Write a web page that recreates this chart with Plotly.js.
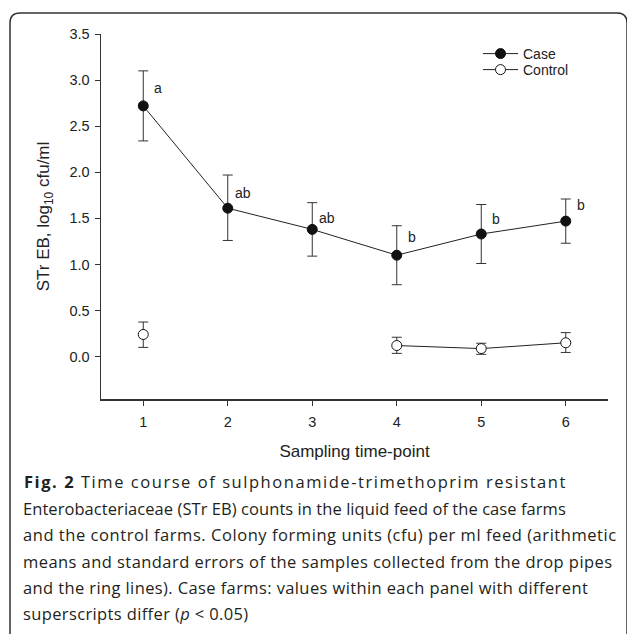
<!DOCTYPE html>
<html>
<head>
<meta charset="utf-8">
<script src="https://cdn.plot.ly/plotly-3.0.1.min.js"></script>
<style>
  html, body { margin: 0; padding: 0; background: #fff; }
  #chart { width: 627px; height: 634px; }
</style>
</head>
<body>
<div id="chart"></div>
<script>
// ---- data ----
const timePoints = [1, 2, 3, 4, 5, 6];
const tickLabelsX = ['1', '2', '3', '4', '5', '6'];

const caseMean      = [2.72, 1.61, 1.38, 1.10, 1.33, 1.47];
const caseErrPlus   = [0.38, 0.36, 0.29, 0.32, 0.32, 0.24];
const caseErrMinus  = [0.38, 0.35, 0.29, 0.32, 0.32, 0.24];

const controlMean     = [0.24, null, null, 0.12, 0.087, 0.15];
const controlErrPlus  = [0.135, null, null, 0.09, 0.058, 0.11];
const controlErrMinus = [0.14, null, null, 0.085, 0.062, 0.105];

const superscripts = ['a', 'ab', 'ab', 'b', 'b', 'b'];
const superscriptY = [2.91, 1.77, 1.50, 1.30, 1.49, 1.65];

const yTickVals = [0, 0.5, 1.0, 1.5, 2.0, 2.5, 3.0, 3.5];

const captionLines = [
  '<b>Fig. 2</b> Time course of sulphonamide-trimethoprim resistant',
  'Enterobacteriaceae (STr EB) counts in the liquid feed of the case farms',
  'and the control farms. Colony forming units (cfu) per ml feed (arithmetic',
  'means and standard errors of the samples collected from the drop pipes',
  'and the ring lines). Case farms: values within each panel with different',
  'superscripts differ (<i>p</i> &lt; 0.05)'
];

// ---- layout geometry ----
const W = 627, H = 634;
const M = { l: 101, r: 19, t: 34, b: 235 };
const PW = W - M.l - M.r, PH = H - M.t - M.b;
const px2x = p => (p - M.l) / PW;
const py2y = p => (H - M.b - p) / PH;

const chartFont = 'Liberation Sans, Arial, Helvetica, sans-serif';
const ink = '#222222';

const traces = [
  {
    name: 'Case', legend: 'legend',
    x: timePoints, y: caseMean,
    type: 'scatter', mode: 'lines+markers',
    line: { color: ink, width: 1 },
    marker: { symbol: 'circle', size: 10, color: '#111111', line: { color: '#111111', width: 1 } },
    error_y: { type: 'data', symmetric: false, array: caseErrPlus, arrayminus: caseErrMinus,
               color: '#333333', thickness: 1, width: 5 }
  },
  {
    name: 'Control', legend: 'legend2',
    x: timePoints, y: controlMean,
    type: 'scatter', mode: 'lines+markers', connectgaps: false,
    line: { color: ink, width: 1 },
    marker: { symbol: 'circle', size: 10, color: '#ffffff', line: { color: '#111111', width: 1 } },
    error_y: { type: 'data', symmetric: false, array: controlErrPlus, arrayminus: controlErrMinus,
               color: '#333333', thickness: 1, width: 5 }
  }
];

const annotations = [];
superscripts.forEach((s, i) => {
  annotations.push({
    x: timePoints[i], y: superscriptY[i], xref: 'x', yref: 'y',
    text: s, showarrow: false, xanchor: 'center', yanchor: 'middle', xshift: 15,
    font: { family: chartFont, size: 14, color: ink }
  });
});

const captionBaselines = [487, 514, 540, 567, 593, 619];
const captionLeft = [22, 21, 21, 21, 21, 21];
const captionTracking = [1.55, 0.06, 0.55, 0.44, 0.39, 0.37];
captionLines.forEach((t, i) => {
  annotations.push({
    xref: 'paper', yref: 'paper',
    x: px2x(captionLeft[i]), y: py2y(captionBaselines[i] + 8),
    xanchor: 'left', yanchor: 'bottom',
    text: '<span style="letter-spacing:' + captionTracking[i] + 'px">' + t + '</span>',
    showarrow: false, align: 'left',
    font: { family: 'Open Sans, Noto Sans, sans-serif', size: 16.5, color: '#231f20' }
  });
});

const shapes = [{
  type: 'path', xref: 'paper', yref: 'paper',
  path: 'M ' + px2x(10) + ',' + py2y(640) +
        ' L ' + px2x(10) + ',' + py2y(23) +
        ' Q ' + px2x(10) + ',' + py2y(13) + ' ' + px2x(20) + ',' + py2y(13) +
        ' L ' + px2x(617) + ',' + py2y(13) +
        ' Q ' + px2x(627) + ',' + py2y(13) + ' ' + px2x(627) + ',' + py2y(23) +
        ' L ' + px2x(627) + ',' + py2y(640),
  line: { color: '#333333', width: 1.5 }
}];

const legendCommon = {
  xanchor: 'left', yanchor: 'top',
  bgcolor: 'rgba(0,0,0,0)', font: { family: chartFont, size: 14, color: ink },
  itemwidth: 35
};

const layout = {
  width: W, height: H,
  margin: M,
  paper_bgcolor: '#ffffff', plot_bgcolor: '#ffffff',
  font: { family: chartFont, color: ink, size: 14 },
  showlegend: true,
  legend: Object.assign({ x: px2x(478), y: py2y(38) }, legendCommon),
  legend2: Object.assign({ x: px2x(478), y: py2y(54) }, legendCommon),
  xaxis: {
    range: [0.5, 6.5], tickvals: timePoints, ticktext: tickLabelsX,
    showline: true, linecolor: '#333333', linewidth: 1.5,
    ticks: 'outside', ticklen: 5, tickwidth: 1, tickcolor: '#333333',
    showgrid: false, zeroline: false,
    tickfont: { family: chartFont, size: 14.5, color: ink },
    ticklabelstandoff: 4,
    title: { text: 'Sampling time-point', font: { family: chartFont, size: 17, color: ink }, standoff: 16 },
    automargin: false, fixedrange: true
  },
  yaxis: {
    range: [-0.46, 3.5], tickvals: yTickVals, tickformat: '.1f',
    showline: true, linecolor: '#333333', linewidth: 1.5,
    ticks: 'outside', ticklen: 5, tickwidth: 1, tickcolor: '#333333',
    showgrid: false, zeroline: false,
    tickfont: { family: chartFont, size: 14.5, color: ink },
    ticklabelstandoff: 2,
    title: { text: 'STr EB, log<sub>10</sub> cfu/ml', font: { family: chartFont, size: 17, color: ink }, standoff: 15 },
    automargin: false, fixedrange: true
  },
  annotations: annotations,
  shapes: shapes
};

Plotly.newPlot('chart', traces, layout, { displayModeBar: false, staticPlot: true });
</script>
</body>
</html>
